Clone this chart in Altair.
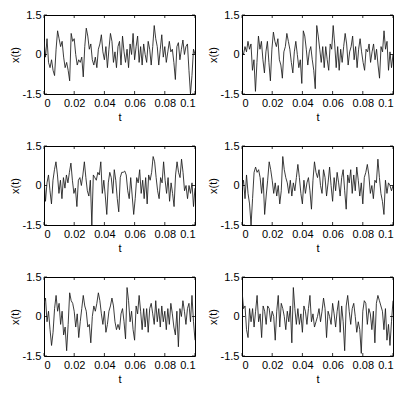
import altair as alt
import numpy as np
import pandas as pd

X_TICKS = [0, 0.02, 0.04, 0.06, 0.08, 0.1]
Y_TICKS = [-1.5, 0, 1.5]

p1 = [0.5, -0.1, 0.6, -0.3, -0.5, -0.2, -0.6, -0.8, 0.2, 0.9, 0.6, 0.3, 0.5, -0.1, -0.5, -0.3, -0.6, -1.0, 0.8, 0.5,
      0.6, 0.0, -0.4, -0.2, -0.3, -0.1, -0.85, 0.3, 1.0, 0.7, 0.2, 0.4, -0.2, -0.4, -0.1, -0.5, 0.2, 0.4, 0.75, 0.1,
      -0.2, 0.3, -0.5, 0.2, 0.8, 0.5, -0.3, 0.1, -0.5, 0.3, 0.5, -0.4, 0.7, 0.1, -0.3, 0.2, -0.5, 0.4, 0.0, 0.8,
      -0.2, 0.3, 0.7, -0.3, 0.3, -0.4, 0.4, 0.0, -0.3, 0.5, 0.2, -0.4, 0.3, 1.1, 0.6, 0.3, -0.4, 0.2, 0.75, -0.1,
      0.3, -0.3, 0.1, 0.5, 0.1, 0.2, -0.3, -0.95, 0.3, 0.45, -0.2, 0.2, 0.55, 0.0, 0.3, 0.4, -0.6, -1.5, -0.8, 0.2, 0.0]

p2 = [0.1, 0.0, 0.3, 0.1, 0.5, 0.2, 0.4, -0.6, -0.2, -1.4, -0.3, 0.7, 0.2, 0.5, -0.2, -0.7, 0.1, 0.5, -0.3, -1.0,
      0.2, 0.85, 0.5, 0.3, 0.6, -0.2, -0.4, -0.9, 0.1, 0.3, 0.8, 0.5, 0.2, -0.3, -0.7, 0.1, 0.5, 0.0, -0.5, -0.2,
      -1.1, 0.9, 0.7, 0.2, -0.4, 0.1, 0.3, -0.2, -0.6, -1.3, 1.1, 0.7, 0.2, -0.3, 0.3, -0.5, 0.3, -0.2, -0.6, 0.4,
      0.2, 1.1, 0.4, -0.5, 0.3, -0.6, 0.2, -0.3, 0.3, 0.8, 0.4, -0.4, 0.1, 0.3, 0.7, -0.2, 0.3, -0.5, 0.2, 0.6,
      0.1, -0.3, -0.6, 0.2, 0.1, 0.4, -0.3, 0.1, 0.4, -0.2, 0.2, -0.4, -0.9, 0.3, 0.1, 0.9, 0.2, 0.5, -0.6, 0.1, -0.5, 0.0]

p3 = [0.3, -0.6, 0.1, 0.4, -0.2, -0.7, 0.2, 0.6, 0.9, 0.4, -0.3, 0.2, -0.5, 0.3, -0.1, 0.4, 0.1, 0.5, 0.85, 0.2,
      -0.3, -0.1, -0.8, 0.2, 0.3, 0.0, 0.4, 0.9, 0.3, -0.2, -0.4, 0.2, -1.5, 0.4, 0.3, 0.2, 0.5, 0.4, 0.9, -0.3,
      0.2, -0.4, -1.1, 0.1, 0.5, 0.3, -0.3, 0.6, 0.2, -0.5, -1.0, 0.3, 0.5, 0.5, 0.55, 0.4, -0.2, -0.5, 0.3, -0.4,
      -1.1, -0.5, 0.3, 0.1, 0.6, -0.3, 0.2, -0.5, 0.3, -0.7, 0.4, 0.2, 0.5, 1.1, 0.9, 0.3, -0.2, -0.5, 0.3, 0.1,
      0.9, 0.2, -0.3, 0.3, -0.6, 0.1, -0.3, -0.8, 0.4, 0.9, 0.5, 0.3, 1.0, 0.5, -0.2, 0.0, -0.5, 0.0, -0.3, 0.1, -0.8, -0.1]

p4 = [-0.1, 0.2, -0.5, 0.4, -0.3, -0.7, -1.5, -0.5, 0.5, 0.7, 0.5, 0.6, 0.3, -0.3, 0.3, -1.1, -0.4, 0.2, 0.9, 0.6,
      0.2, -0.3, 0.1, -0.4, 0.0, -0.7, -0.2, 1.1, 0.6, 0.3, 0.1, -0.3, 0.2, -0.4, 0.1, -0.2, 0.3, 0.8, 0.3, -0.3,
      -0.7, 0.2, -0.3, 0.1, 0.3, -0.2, -0.9, 0.2, 0.9, 0.5, 0.3, 0.6, 0.0, -0.3, 0.6, 0.3, -0.4, 0.1, 0.7, 0.0,
      -0.6, 0.3, -0.2, 0.5, 0.1, -0.4, 0.3, 0.6, -0.2, -0.9, 0.4, 0.1, 0.6, -0.3, 0.4, -0.2, 0.7, 0.2, -0.4, 0.1,
      -0.7, 0.3, 0.5, 0.8, 0.4, -0.3, 0.0, -0.5, 0.2, 0.1, 1.0, 0.3, -0.3, -0.6, -1.1, 0.2, -0.3, 0.1, 0.0, -0.2, 0.0]

p5 = [0.5, 0.7, -0.2, 0.2, -0.5, -1.1, -0.6, 0.3, 0.8, 0.2, 0.5, -0.3, 0.2, -0.7, -0.4, -1.3, -0.3, 0.9, 0.6, 0.5,
      0.2, -0.4, 0.1, -0.8, -0.2, 0.3, 0.8, 0.4, 0.2, -0.4, -0.3, -1.0, 0.0, 0.4, 0.2, 0.5, 0.9, 0.6, 0.1, -0.3,
      0.2, -0.6, -0.3, 0.2, 0.4, 0.7, 0.4, -0.2, -0.5, -0.3, -0.5, 0.1, 0.3, -0.2, -0.85, 1.1, 0.6, -0.2, 0.2, -0.5,
      -0.9, 0.4, 0.1, 0.8, 0.2, -0.5, 0.3, -0.4, 0.3, -0.6, 0.3, 0.5, 0.1, -0.3, 0.6, -0.2, 0.3, -0.4, 0.4, -0.2,
      0.2, -0.5, 0.3, -0.3, 0.5, 0.1, -0.4, -0.7, 0.2, -1.15, 0.3, 0.0, 0.6, 0.2, -0.3, 0.3, 0.5, -0.2, 0.8, -0.2, -0.9]

p6 = [1.0, 0.3, 0.4, -0.5, -0.8, 0.3, -0.2, 0.3, -0.4, 0.2, 0.8, -0.2, 0.1, -0.8, 0.4, 0.2, -0.3, 0.4, 0.3, -0.2,
      0.2, 0.0, -0.9, 0.2, 0.8, -0.4, 0.5, 0.3, 0.0, -0.5, 0.2, -0.2, 0.4, -1.0, 1.1, 0.3, -0.3, 0.3, -0.3, 0.1,
      -0.6, 0.4, 0.2, -0.3, 0.3, 0.8, -0.2, 0.1, -0.4, -0.2, 0.0, 0.3, -0.2, 0.2, 0.7, 0.3, -0.8, 0.2, 0.0, -0.3,
      0.5, 0.1, -0.4, 0.2, 0.6, -0.6, 0.4, -0.2, -1.3, 0.4, 0.8, 0.2, -0.3, 0.3, 0.5, 0.0, -0.6, -0.2, -0.5, -1.4,
      0.2, 0.6, 0.5, -0.3, 0.3, 0.1, -0.5, 0.2, -1.0, 0.5, 0.8, 0.6, 0.4, 0.2, -0.5, 0.3, -0.9, -0.3, -1.1, -0.2, 0.6]

SERIES = [p1, p2, p3, p4, p5, p6]

W, H = 151, 79
FONT = "Liberation Sans"

xs = alt.Scale(domain=[0, 0.1], nice=False, zero=False)
ys = alt.Scale(domain=[-1.5, 1.5], nice=False, zero=False)
x_axis = alt.Axis(values=X_TICKS, title="t", labelExpr="format(datum.value, '~g')")
y_axis = alt.Axis(values=Y_TICKS, title="x(t)",
                  labelExpr="replace(format(datum.value, '~g'), '\u2212', '-')")


def panel(vals):
    df = pd.DataFrame({"t": np.linspace(0, 0.1, len(vals)), "x": vals})
    line = alt.Chart(df).mark_line(color="#1a1a1a", strokeWidth=0.85, clip=True).encode(
        x=alt.X("t:Q", scale=xs, axis=x_axis, title="t"),
        y=alt.Y("x:Q", scale=ys, axis=y_axis, title="x(t)"),
    )
    xt = pd.DataFrame({"t": X_TICKS})
    yt = pd.DataFrame({"x": Y_TICKS})
    rule = dict(color="black", strokeWidth=0.8)
    tb = alt.Chart(xt).mark_rule(**rule).encode(
        x=alt.X("t:Q", scale=xs, axis=x_axis, title="t"), y=alt.value(H), y2=alt.value(H - 3))
    tt = alt.Chart(xt).mark_rule(**rule).encode(
        x=alt.X("t:Q", scale=xs, axis=x_axis, title="t"), y=alt.value(0), y2=alt.value(3))
    tl = alt.Chart(yt).mark_rule(**rule).encode(
        y=alt.Y("x:Q", scale=ys, axis=y_axis, title="x(t)"), x=alt.value(0), x2=alt.value(3))
    tr = alt.Chart(yt).mark_rule(**rule).encode(
        y=alt.Y("x:Q", scale=ys, axis=y_axis, title="x(t)"), x=alt.value(W), x2=alt.value(W - 3))
    return alt.layer(line, tb, tt, tl, tr).properties(width=W, height=H)


rows = [alt.hconcat(panel(SERIES[2 * i]), panel(SERIES[2 * i + 1]), spacing=10) for i in range(3)]
chart = alt.vconcat(*rows, spacing=16).properties(
    padding={"left": 0, "top": 0, "right": 0, "bottom": 0}
).configure_view(
    stroke="black", strokeWidth=1
).configure_axis(
    ticks=False, domain=False, grid=False,
    labelFont=FONT, labelFontSize=11, labelColor="black", labelPadding=3,
    titleFont=FONT, titleFontSize=11, titleFontWeight="normal", titleColor="black",
).configure_axisX(titlePadding=3).configure_axisY(titlePadding=2)

chart.save("out.html", embed_options={"renderer": "svg", "actions": False})
